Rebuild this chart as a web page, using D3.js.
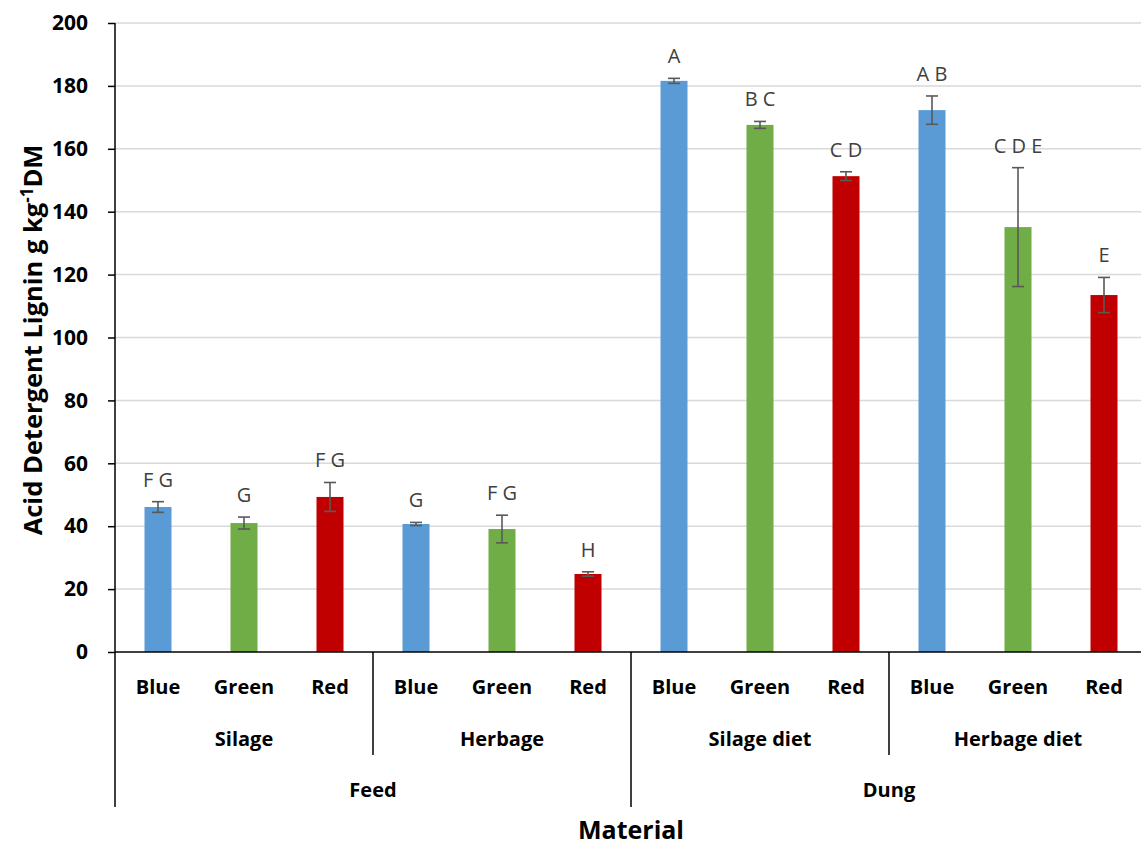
<!DOCTYPE html>
<html><head><meta charset="utf-8">
<script src="https://cdn.jsdelivr.net/npm/d3@7"></script>
<style>body{margin:0;background:#fff}svg{display:block}</style>
</head><body>
<svg id="c" width="1141" height="846"></svg>
<script>
const colours = ["Blue","Green","Red"];
const groups = ["Silage","Herbage","Silage diet","Herbage diet"];
const materials = ["Feed","Dung"];
const values = [46.1,41.0,49.3, 40.7,39.1,24.8, 181.6,167.6,151.3, 172.3,135.1,113.5];
const errors = [1.7,1.9,4.6, 0.5,4.4,0.7, 0.8,1.1,1.4, 4.5,18.9,5.6];
const letters = ["F G","G","F G","G","F G","H","A","B C","C D","A B","C D E","E"];
const yTicks = [0,20,40,60,80,100,120,140,160,180,200];
const fills = {Blue:"#5b9bd5",Green:"#70ad47",Red:"#c00000"};

const svg = d3.select("#c");
const L=115, R=1147, T=23, B=652;
const idx = d3.range(values.length);
const x = d3.scaleBand().domain(idx).range([L,R]).paddingInner(0.686).paddingOuter(0.343);
const y = d3.scaleLinear().domain([0,200]).range([B,T]);
const step = x.step();
const font = "'Open Sans', sans-serif";

// gridlines
svg.append("g").selectAll("line").data(yTicks.filter(d=>d>0)).join("line")
  .attr("x1",L).attr("x2",1141).attr("y1",d=>y(d)).attr("y2",d=>y(d))
  .attr("stroke","#d9d9d9").attr("stroke-width",1.5);

// bars
svg.append("g").selectAll("rect").data(idx).join("rect")
  .attr("x",i=>x(i)).attr("width",x.bandwidth())
  .attr("y",i=>y(values[i])).attr("height",i=>B-y(values[i]))
  .attr("fill",i=>fills[colours[i%3]]);

// error bars
const eg = svg.append("g").attr("stroke","#595959").attr("stroke-width",1.6);
idx.forEach(i=>{
  const cx = x(i)+x.bandwidth()/2;
  const y1 = y(values[i]+errors[i]), y2 = y(values[i]-errors[i]);
  eg.append("line").attr("x1",cx).attr("x2",cx).attr("y1",y1).attr("y2",y2);
  eg.append("line").attr("x1",cx-6).attr("x2",cx+6).attr("y1",y1).attr("y2",y1);
  eg.append("line").attr("x1",cx-6).attr("x2",cx+6).attr("y1",y2).attr("y2",y2);
});

// letters
svg.append("g").selectAll("text").data(idx).join("text")
  .attr("x",i=>x(i)+x.bandwidth()/2).attr("y",i=>y(values[i]+errors[i])-15)
  .attr("text-anchor","middle").attr("font-family",font).attr("font-size",20)
  .attr("fill","#404040").text(i=>letters[i]);

// y axis
const ya = svg.append("g").attr("transform",`translate(${L},0)`)
  .call(d3.axisLeft(y).tickValues(yTicks).tickSize(7).tickPadding(20));
ya.select(".domain").remove();
ya.selectAll(".tick line").attr("stroke","#000").attr("stroke-width",1.5);
ya.selectAll(".tick text").attr("font-family",font).attr("font-size",21)
  .attr("font-weight","bold").attr("fill","#000");
svg.append("line").attr("x1",L).attr("x2",L).attr("y1",T).attr("y2",807)
  .attr("stroke","#000").attr("stroke-width",1.5);
// x axis line
svg.append("line").attr("x1",L).attr("x2",1141).attr("y1",B).attr("y2",B)
  .attr("stroke","#000").attr("stroke-width",1.5);

// category labels
const lab = svg.append("g").attr("font-family",font).attr("font-weight","bold")
  .attr("font-size",20).attr("fill","#000").attr("text-anchor","middle");
lab.selectAll("text.c").data(idx).join("text").attr("class","c")
  .attr("x",i=>x(i)+x.bandwidth()/2).attr("y",694).text(i=>colours[i%3]);
lab.selectAll("text.g").data(groups).join("text").attr("class","g")
  .attr("x",(d,j)=>L+step*3*j+step*1.5).attr("y",746).text(d=>d);
lab.selectAll("text.m").data(materials).join("text").attr("class","m")
  .attr("x",(d,j)=>L+step*6*j+step*3).attr("y",797).text(d=>d);

// dividers
const dv = svg.append("g").attr("stroke","#000").attr("stroke-width",1.5);
[1,3].forEach(j=>dv.append("line").attr("x1",L+step*3*j).attr("x2",L+step*3*j).attr("y1",B).attr("y2",755));
dv.append("line").attr("x1",L+step*6).attr("x2",L+step*6).attr("y1",B).attr("y2",807);

// axis titles
svg.append("text").attr("x",L+step*6).attr("y",839).attr("text-anchor","middle")
  .attr("font-family",font).attr("font-weight","bold").attr("font-size",25).text("Material");
const yt = svg.append("text").attr("transform","translate(42,340) rotate(-90)")
  .attr("text-anchor","middle").attr("font-family",font).attr("font-weight","bold").attr("font-size",25.5);
yt.append("tspan").text("Acid Detergent Lignin g kg");
yt.append("tspan").attr("dy",-9).attr("font-size",17).text("-1");
yt.append("tspan").attr("dy",9).text("DM");
</script>
</body></html>
